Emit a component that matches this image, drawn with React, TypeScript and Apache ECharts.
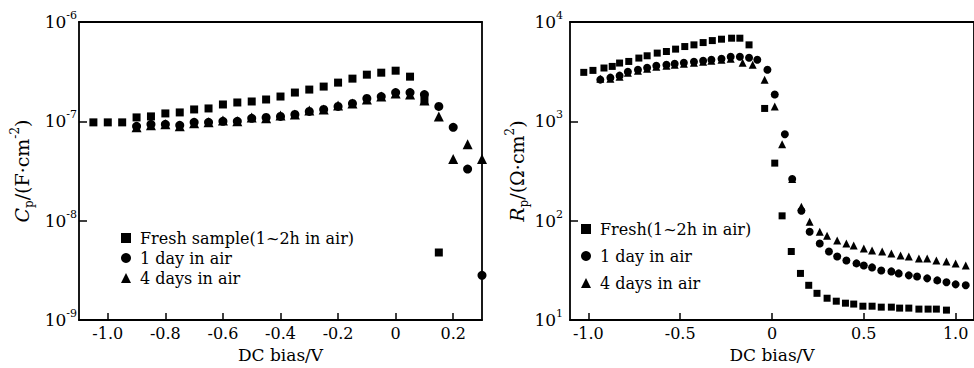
import React, { useEffect, useRef } from "react";
import * as echarts from "echarts";

const FONT = "'DejaVu Serif', 'Liberation Serif', serif";

// ---------- Left panel: capacitance Cp vs DC bias ----------
const leftNames = ["Fresh sample(1~2h in air)", "1 day in air", "4 days in air"];
const leftXTicks = [-1.0, -0.8, -0.6, -0.4, -0.2, 0, 0.2];
const leftYTicks = [1e-9, 1e-8, 1e-7, 1e-6];

const leftFresh: [number, number][] = [
  [-1.05, 9.77e-8], [-1.0, 9.77e-8], [-0.95, 9.77e-8], [-0.9, 1.096e-7], [-0.85, 1.122e-7],
  [-0.8, 1.202e-7], [-0.75, 1.23e-7], [-0.7, 1.318e-7], [-0.65, 1.349e-7], [-0.6, 1.479e-7],
  [-0.55, 1.549e-7], [-0.5, 1.585e-7], [-0.45, 1.66e-7], [-0.4, 1.778e-7], [-0.35, 1.95e-7],
  [-0.3, 2.089e-7], [-0.25, 2.239e-7], [-0.2, 2.455e-7], [-0.15, 2.692e-7], [-0.1, 2.951e-7],
  [-0.05, 3.09e-7], [0, 3.236e-7], [0.05, 2.818e-7], [0.1, 1.622e-7], [0.15, 4.79e-9],
];
const leftOneDay: [number, number][] = [
  [-0.9, 8.91e-8], [-0.85, 9.33e-8], [-0.8, 9.33e-8], [-0.75, 9.12e-8], [-0.7, 9.77e-8],
  [-0.65, 9.77e-8], [-0.6, 1.0e-7], [-0.55, 1.0e-7], [-0.5, 1.072e-7], [-0.45, 1.096e-7],
  [-0.4, 1.122e-7], [-0.35, 1.175e-7], [-0.3, 1.259e-7], [-0.25, 1.318e-7], [-0.2, 1.413e-7],
  [-0.15, 1.514e-7], [-0.1, 1.698e-7], [-0.05, 1.778e-7], [0, 1.95e-7], [0.05, 1.95e-7],
  [0.1, 1.862e-7], [0.15, 1.413e-7], [0.2, 8.71e-8], [0.25, 3.31e-8], [0.3, 2.82e-9],
];
const leftFourDays: [number, number][] = [
  [-0.9, 8.71e-8], [-0.85, 9.12e-8], [-0.8, 9.33e-8], [-0.75, 8.91e-8], [-0.7, 9.55e-8],
  [-0.65, 9.77e-8], [-0.6, 1.023e-7], [-0.55, 1.0e-7], [-0.5, 1.096e-7], [-0.45, 1.072e-7],
  [-0.4, 1.148e-7], [-0.35, 1.175e-7], [-0.3, 1.288e-7], [-0.25, 1.318e-7], [-0.2, 1.445e-7],
  [-0.15, 1.514e-7], [-0.1, 1.66e-7], [-0.05, 1.778e-7], [0, 1.905e-7], [0.05, 1.862e-7],
  [0.1, 1.622e-7], [0.15, 1.122e-7], [0.2, 4.17e-8], [0.25, 5.89e-8], [0.3, 4.17e-8],
];

// ---------- Right panel: resistance Rp vs DC bias ----------
const rightNames = ["Fresh(1~2h in air)", "1 day in air", "4 days in air"];
const rightXTicks = [-1.0, -0.5, 0, 0.5, 1.0];
const rightYTicks = [10, 100, 1000, 10000];

const rightFresh: [number, number][] = [
  [-1.025, 3113], [-0.975, 3258], [-0.915, 3443], [-0.87, 3573], [-0.83, 3864],
  [-0.78, 4009], [-0.725, 4335], [-0.68, 4571], [-0.625, 4864], [-0.575, 5047],
  [-0.525, 5333], [-0.475, 5662], [-0.425, 5888], [-0.375, 6209], [-0.325, 6501],
  [-0.275, 6714], [-0.22, 6871], [-0.175, 6871], [-0.125, 5888], [-0.04, 1349],
  [0.015, 380], [0.055, 112], [0.105, 49], [0.155, 29.5], [0.2, 22.4],
  [0.245, 18.6], [0.3, 16.6], [0.35, 15.5], [0.4, 14.8], [0.445, 14.5],
  [0.495, 13.8], [0.545, 13.8], [0.595, 13.5], [0.65, 13.5], [0.695, 13.2],
  [0.745, 13.2], [0.8, 12.9], [0.85, 12.9], [0.895, 12.9], [0.95, 12.6],
];
const rightOneDay: [number, number][] = [
  [-0.935, 2630], [-0.88, 2754], [-0.83, 2884], [-0.785, 3162], [-0.73, 3311],
  [-0.68, 3467], [-0.63, 3631], [-0.575, 3715], [-0.53, 3802], [-0.48, 3890],
  [-0.425, 3981], [-0.375, 4074], [-0.33, 4169], [-0.275, 4266], [-0.225, 4467],
  [-0.175, 4467], [-0.125, 4365], [-0.08, 4169], [-0.025, 3311], [0.015, 1862],
  [0.07, 741], [0.11, 263], [0.16, 126], [0.205, 77.6], [0.26, 58.9],
  [0.31, 49], [0.355, 43.7], [0.405, 39.8], [0.46, 37.2], [0.5, 35.5],
  [0.545, 33.9], [0.595, 31.6], [0.65, 30.9], [0.69, 29.5], [0.745, 28.2],
  [0.79, 27.5], [0.845, 26.3], [0.9, 25.1], [0.95, 24], [1.0, 22.9], [1.055, 22.4],
];
const rightFourDays: [number, number][] = [
  [-0.935, 2690], [-0.88, 2690], [-0.83, 2818], [-0.785, 3090], [-0.73, 3236],
  [-0.68, 3388], [-0.63, 3548], [-0.575, 3631], [-0.53, 3715], [-0.48, 3802],
  [-0.425, 3890], [-0.375, 3981], [-0.33, 4074], [-0.275, 4169], [-0.225, 4266],
  [-0.16, 3890], [-0.105, 3715], [-0.04, 2630], [0.015, 1413], [0.055, 589],
  [0.11, 263], [0.16, 138], [0.205, 97.7], [0.26, 77.6], [0.3, 70.8],
  [0.355, 63.1], [0.405, 58.9], [0.445, 56.2], [0.5, 52.5], [0.545, 50.1],
  [0.6, 49], [0.65, 46.8], [0.7, 44.7], [0.745, 43.7], [0.8, 41.7],
  [0.845, 41.7], [0.895, 39.8], [0.95, 38.9], [1.0, 37.2], [1.055, 35.5],
];

const BLACK = "#000";

const tickFmt = (v: number) => (Math.abs(v) < 1e-9 ? "0" : v.toFixed(1));
const logFmt = (v: number) => `{b|10}{s|${Math.round(Math.log10(v))}}`;

const labelRich = {
  b: { fontSize: 17, fontFamily: FONT, color: BLACK, lineHeight: 24 },
  s: { fontSize: 11, fontFamily: FONT, color: BLACK, lineHeight: 11, verticalAlign: "top" },
};
const nameRich = {
  i: { fontSize: 19, fontFamily: FONT, fontStyle: "italic", color: BLACK, lineHeight: 26 },
  n: { fontSize: 19, fontFamily: FONT, color: BLACK, lineHeight: 26 },
  sub: { fontSize: 12, fontFamily: FONT, color: BLACK, lineHeight: 12, verticalAlign: "bottom" },
  sup: { fontSize: 12, fontFamily: FONT, color: BLACK, lineHeight: 12, verticalAlign: "top" },
};

const axisLine = { show: true, onZero: false, lineStyle: { color: BLACK, width: 1.8 } };

function bottomAxis(gi: number, min: number, max: number, ticks: number[]) {
  return {
    type: "value", gridIndex: gi, position: "bottom", min, max,
    axisLine,
    axisTick: { show: true, inside: true, length: 7, customValues: ticks, lineStyle: { color: BLACK, width: 1.5 } },
    axisLabel: { show: true, customValues: ticks, formatter: tickFmt, margin: 5, color: BLACK, fontFamily: FONT, fontSize: 16 },
    splitLine: { show: false },
    name: "DC bias/V", nameLocation: "middle", nameGap: 25,
    nameTextStyle: { color: BLACK, fontFamily: FONT, fontSize: 17 },
  };
}
function frameAxis(gi: number, pos: string) {
  return {
    type: "value", gridIndex: gi, position: pos, min: 0, max: 1,
    axisLine, axisTick: { show: false }, axisLabel: { show: false }, splitLine: { show: false },
  };
}
function logAxis(gi: number, min: number, max: number, ticks: number[], name: string, gap: number, margin: number) {
  return {
    type: "log", logBase: 10, gridIndex: gi, position: "left", min, max,
    axisLine,
    axisTick: { show: true, inside: true, length: 8, customValues: ticks, lineStyle: { color: BLACK, width: 1.5 } },
    axisLabel: { show: true, customValues: ticks, formatter: logFmt, rich: labelRich, margin, color: BLACK },
    splitLine: { show: false }, minorTick: { show: false },
    name, nameLocation: "middle", nameRotate: 90, nameGap: gap,
    nameTextStyle: { color: BLACK, fontFamily: FONT, fontSize: 19, rich: nameRich },
  };
}

function scatter(name: string, data: [number, number][], symbol: string, size: number, xi: number, yi: number) {
  return {
    type: "scatter", name, data, symbol, symbolSize: size,
    xAxisIndex: xi, yAxisIndex: yi,
    itemStyle: { color: BLACK, opacity: 1 },
    emphasis: { disabled: true }, silent: true,
  };
}

function legend(names: string[], left: number, top: number, gap: number) {
  return {
    data: names, orient: "vertical", left, top, padding: 0, itemGap: gap,
    itemWidth: 10, itemHeight: 10, selectedMode: false,
    textStyle: { color: BLACK, fontFamily: FONT, fontSize: 16, lineHeight: 20, padding: [0, 0, 0, 4] },
  };
}

export default function App() {
  const ref = useRef<HTMLDivElement>(null);
  useEffect(() => {
    if (!ref.current) return;
    const chart = echarts.init(ref.current, undefined, { renderer: "svg" });
    chart.setOption({
      animation: false,
      backgroundColor: "#fff",
      grid: [
        { left: 79, top: 22, width: 403, height: 300, containLabel: false },
        { left: 570, top: 22, width: 405, height: 300, containLabel: false },
      ],
      xAxis: [
        bottomAxis(0, -1.1, 0.3, leftXTicks),
        frameAxis(0, "top"),
        bottomAxis(1, -1.1, 1.1, rightXTicks),
        frameAxis(1, "top"),
      ],
      yAxis: [
        logAxis(0, 1e-9, 1e-6, leftYTicks, "{i|C}{sub|p}{n|/(F·cm}{sup|-2}{n|)}", 44, 2),
        frameAxis(0, "right"),
        logAxis(1, 10, 10000, rightYTicks, "{i|R}{sub|p}{n|/(Ω·cm}{sup|2}{n|)}", 40, 7),
        frameAxis(1, "right"),
      ],
      legend: [legend(leftNames, 121, 228, 0), legend(rightNames, 581, 219, 7)],
      series: [
        scatter(leftNames[0], leftFresh, "rect", 8, 0, 0),
        scatter(leftNames[1], leftOneDay, "circle", 9, 0, 0),
        scatter(leftNames[2], leftFourDays, "triangle", 10, 0, 0),
        scatter(rightNames[0], rightFresh, "rect", 7, 2, 2),
        scatter(rightNames[1], rightOneDay, "circle", 8, 2, 2),
        scatter(rightNames[2], rightFourDays, "triangle", 8, 2, 2),
      ],
    });
    return () => chart.dispose();
  }, []);
  return (
    <div style={{ position: "absolute", left: 0, top: 0, width: 974, height: 368, background: "#fff" }}>
      <div ref={ref} style={{ width: 974, height: 368 }} />
    </div>
  );
}
